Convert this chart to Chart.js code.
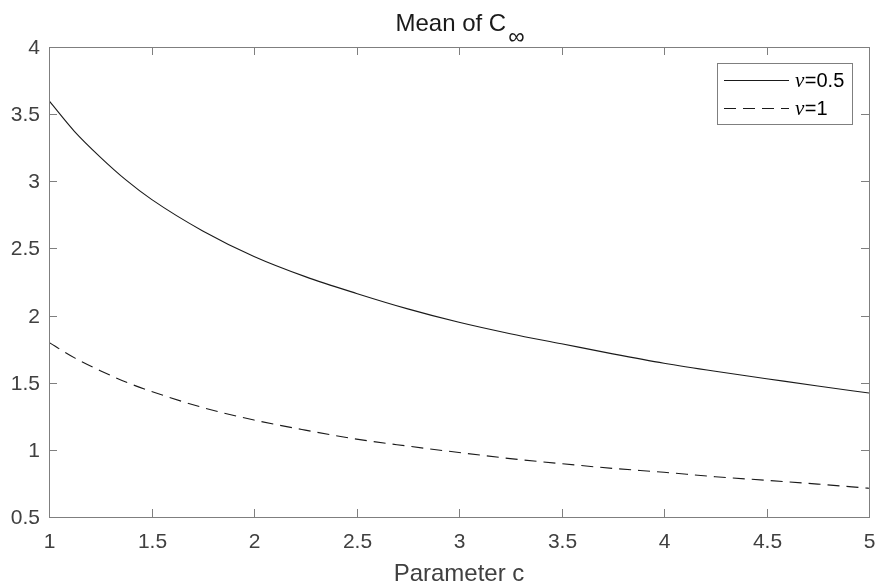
<!DOCTYPE html>
<html>
<head>
    <title>Mean of C-infinity</title>
    <script src="https://cdn.jsdelivr.net/npm/chart.js"></script>
    <style>
        body {
            background-color: white;
            margin: 0;
        }

        #chartBox {
            width: 877px;
            height: 583px;
        }
    </style>
</head>
<body>
    <div id="chartBox">
        <canvas id="meanChart" width="877" height="583"></canvas>
    </div>

    <script>
        const cValues = [1, 1.125, 1.25, 1.375, 1.5, 1.75, 2, 2.25, 2.5, 2.75, 3, 3.25, 3.5, 3.75, 4, 4.25, 4.5, 4.75, 5];

        const meanNu05 = [3.60, 3.37, 3.18, 3.01, 2.865, 2.63, 2.44, 2.29, 2.165, 2.05, 1.95, 1.865, 1.79, 1.715, 1.645, 1.585, 1.53, 1.475, 1.423];
        const meanNu1 = [1.80, 1.685, 1.59, 1.505, 1.435, 1.315, 1.222, 1.147, 1.08, 1.028, 0.98, 0.935, 0.897, 0.862, 0.833, 0.80, 0.773, 0.745, 0.714];

        const seriesNames = ['0.5', '1'];

        const xTicks = [1, 1.5, 2, 2.5, 3, 3.5, 4, 4.5, 5];
        const yTicks = [0.5, 1, 1.5, 2, 2.5, 3, 3.5, 4];

        const toPoints = vals => vals.map((v, i) => ({ x: cValues[i], y: v }));

        const sans = '"Liberation Sans", Arial, Helvetica, sans-serif';
        const serif = '"Liberation Serif", "Times New Roman", serif';

        // matlab style box, inward ticks, labels, title and legend
        const matlabAxes = {
            id: 'matlabAxes',
            afterDatasetsDraw(chart) {
                const { ctx, chartArea: a, scales: { x, y } } = chart;
                ctx.save();

                ctx.strokeStyle = '#7f7f7f';
                ctx.lineWidth = 1;
                ctx.strokeRect(a.left + 0.5, a.top + 0.5, a.right - a.left, a.bottom - a.top);

                ctx.fillStyle = '#404040';
                ctx.font = '21px ' + sans;

                ctx.textAlign = 'center';
                ctx.textBaseline = 'middle';
                xTicks.forEach(v => {
                    const px = Math.round(x.getPixelForValue(v)) + 0.5;
                    ctx.beginPath();
                    ctx.moveTo(px, a.bottom);
                    ctx.lineTo(px, a.bottom - 8);
                    ctx.moveTo(px, a.top);
                    ctx.lineTo(px, a.top + 8);
                    ctx.stroke();
                    ctx.fillText(String(v), px, a.bottom + 25);
                });

                ctx.textAlign = 'right';
                yTicks.forEach(v => {
                    const py = Math.round(y.getPixelForValue(v)) + 0.5;
                    ctx.beginPath();
                    ctx.moveTo(a.left, py);
                    ctx.lineTo(a.left + 8, py);
                    ctx.moveTo(a.right, py);
                    ctx.lineTo(a.right - 8, py);
                    ctx.stroke();
                    ctx.fillText(String(v), a.left - 9, py + 1);
                });

                const midX = (a.left + a.right) / 2;

                // x axis label
                ctx.textAlign = 'center';
                ctx.textBaseline = 'alphabetic';
                ctx.font = '24px ' + sans;
                ctx.fillText('Parameter c', midX, 581);

                // title with subscript infinity
                ctx.fillStyle = '#1a1a1a';
                ctx.textAlign = 'left';
                const mainText = 'Mean of C';
                const wMain = ctx.measureText(mainText).width;
                ctx.font = '23px ' + sans;
                const wSub = ctx.measureText('\u221E').width;
                const gap = 2;
                const startX = midX + 1 - (wMain + gap + wSub) / 2;
                ctx.font = '24px ' + sans;
                ctx.fillText(mainText, startX, 31);
                ctx.font = '23px ' + sans;
                ctx.textBaseline = 'middle';
                ctx.fillText('\u221E', startX + wMain + gap, 38);

                // legend
                const lx = 717, ly = 63, lw = 135, lh = 61;
                ctx.fillStyle = 'white';
                ctx.fillRect(lx, ly, lw, lh);
                ctx.strokeStyle = '#7f7f7f';
                ctx.strokeRect(lx + 0.5, ly + 0.5, lw, lh);

                chart.data.datasets.forEach((ds, i) => {
                    const rowY = ly + 17 + i * 28;
                    ctx.strokeStyle = ds.borderColor;
                    ctx.lineWidth = ds.borderWidth;
                    ctx.setLineDash(ds.borderDash || []);
                    ctx.beginPath();
                    ctx.moveTo(lx + 7, rowY + 0.5);
                    ctx.lineTo(lx + 72, rowY + 0.5);
                    ctx.stroke();
                    ctx.setLineDash([]);

                    ctx.fillStyle = '#000';
                    ctx.textBaseline = 'middle';
                    ctx.textAlign = 'left';
                    ctx.font = 'italic 21px ' + serif;
                    const nuX = lx + 78;
                    ctx.fillText('\u03BD', nuX, rowY + 1);
                    const wNu = ctx.measureText('\u03BD').width;
                    ctx.font = '20px ' + sans;
                    ctx.fillText('=' + seriesNames[i], nuX + wNu + 0.5, rowY + 1);
                });

                ctx.restore();
            }
        };

        const ctx = document.getElementById('meanChart').getContext('2d');
        new Chart(ctx, {
            type: 'line',
            data: {
                datasets: [
                    {
                        label: '\u03BD=' + seriesNames[0],
                        data: toPoints(meanNu05),
                        borderColor: '#1a1a1a',
                        borderWidth: 1.1,
                        pointRadius: 0,
                        fill: false,
                        cubicInterpolationMode: 'monotone'
                    },
                    {
                        label: '\u03BD=' + seriesNames[1],
                        data: toPoints(meanNu1),
                        borderColor: '#1a1a1a',
                        borderWidth: 1.1,
                        borderDash: [12, 7],
                        pointRadius: 0,
                        fill: false,
                        cubicInterpolationMode: 'monotone'
                    }
                ]
            },
            options: {
                responsive: false,
                animation: false,
                layout: {
                    padding: { left: 49, top: 47, right: 8, bottom: 66 }
                },
                scales: {
                    x: { type: 'linear', min: 1, max: 5, display: false },
                    y: { min: 0.5, max: 4, display: false }
                },
                plugins: {
                    legend: { display: false },
                    tooltip: { enabled: false }
                }
            },
            plugins: [matlabAxes]
        });
    </script>
</body>
</html>
